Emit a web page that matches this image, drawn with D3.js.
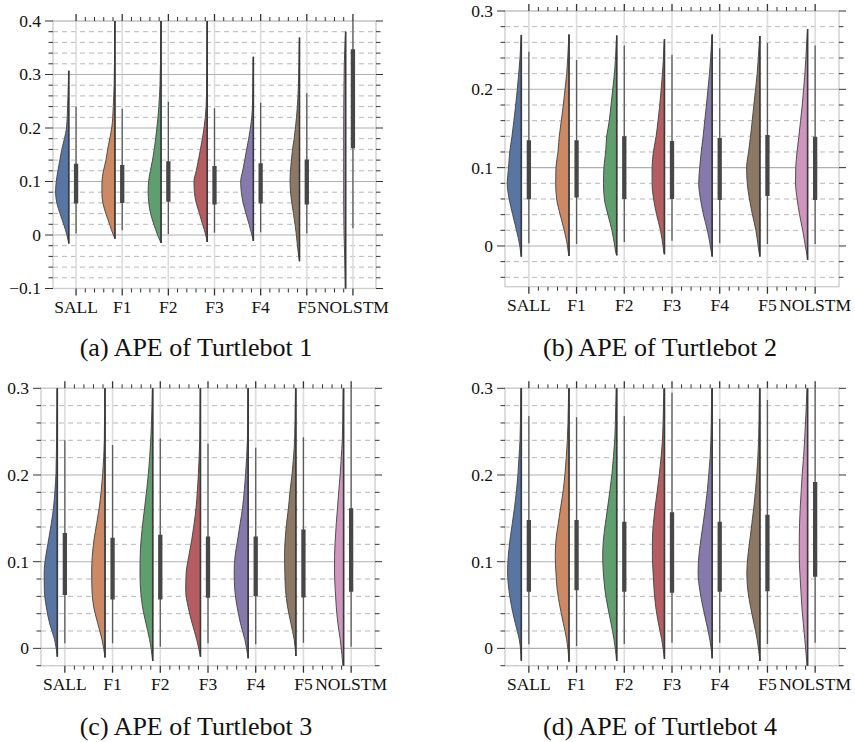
<!DOCTYPE html>
<html>
<head>
<meta charset="utf-8">
<script src="https://cdn.jsdelivr.net/npm/d3@7"></script>
<style>
  html, body { margin: 0; padding: 0; background: #ffffff; }
  svg { display: block; }
  text { font-family: "Liberation Serif", "DejaVu Serif", serif; fill: #111; }
</style>
</head>
<body>
<svg id="chart" width="855" height="742"></svg>
<script>
// ---------------- DATA ----------------
const categories = ["SALL", "F1", "F2", "F3", "F4", "F5", "NOLSTM"];
const palette = ["#5875a4", "#cc8963", "#5f9e6e", "#b55d60", "#857aab", "#8d7866", "#d095bf"];
const captions = ["(a) APE of Turtlebot 1", "(b) APE of Turtlebot 2", "(c) APE of Turtlebot 3", "(d) APE of Turtlebot 4"];

// y-axis domains and ticks
const yDomains = [[-0.1, 0.4], [-0.052, 0.3], [-0.02, 0.3], [-0.02, 0.3]];
const yMajorTicks = [[-0.1, 0, 0.1, 0.2, 0.3, 0.4], [0, 0.1, 0.2, 0.3], [0, 0.1, 0.2, 0.3], [0, 0.1, 0.2, 0.3]];
const yMajorLabels = [["\u22120.1", "0", "0.1", "0.2", "0.3", "0.4"], ["0", "0.1", "0.2", "0.3"], ["0", "0.1", "0.2", "0.3"], ["0", "0.1", "0.2", "0.3"]];
const yMinorStep = 0.02;

// ---- Turtlebot 1 ----
const t1Levels = [-0.04, -0.02, 0, 0.02, 0.04, 0.06, 0.08, 0.10, 0.12, 0.14, 0.16, 0.18, 0.20, 0.24, 0.28, 0.32, 0.36];
const t1Density = [
  [0, 0, 1.9, 5.3, 9, 12.3, 13.6, 12.9, 11.2, 9.2, 7.2, 4.5, 2.3, 1.2, 0.5, 0, 0],
  [0, 0, 1.6, 5.5, 9.3, 12.4, 13.4, 13.3, 11.8, 9.2, 7.5, 5.3, 3.3, 1.7, 0.8, 0.5, 0.3],
  [0, 0, 3.6, 7.4, 10.8, 12.6, 13.3, 12.8, 11, 8.8, 7, 5.6, 4.3, 2.3, 1.1, 0.6, 0.4],
  [0, 0, 1.5, 4.8, 8, 11.3, 13.2, 13.6, 11.3, 9, 7, 5, 3.3, 1.1, 0.6, 0.4, 0.3],
  [0, 0, 1.5, 4.4, 7.6, 10.5, 12.4, 13, 11, 8.8, 6.9, 4.8, 3, 0.9, 0.5, 0.2, 0],
  [0.8, 2.1, 3.2, 4.6, 6.2, 7.9, 9.2, 9.7, 9.3, 8.3, 7.2, 5.5, 4.2, 2.2, 1.1, 0.6, 0.2],
  [1, 1.3, 1.6, 1.8, 1.9, 2, 2, 2, 2, 2, 2, 2, 2, 1.9, 1.7, 1.4, 0.6]
];
const t1Min = [-0.016, -0.007, -0.015, -0.013, -0.011, -0.049, -0.13];
const t1Max = [0.307, 0.45, 0.45, 0.45, 0.333, 0.369, 0.38];
const t1WhiskLo = [0.003, 0.009, 0.002, 0.004, 0.005, 0.003, 0.0125];
const t1WhiskHi = [0.24, 0.236, 0.249, 0.237, 0.247, 0.265, 0.45];
const t1Q1 = [0.059, 0.06, 0.062, 0.057, 0.059, 0.057, 0.162];
const t1Q3 = [0.133, 0.131, 0.138, 0.129, 0.134, 0.141, 0.347];

// ---- Turtlebot 2 ----
const t2Levels = [-0.01, 0, 0.02, 0.04, 0.06, 0.08, 0.10, 0.12, 0.14, 0.16, 0.18, 0.20, 0.22, 0.24, 0.26];
const t2Density = [
  [0.5, 1.5, 4.8, 8.6, 12.1, 14, 12.7, 11.5, 9.3, 7.4, 5.6, 4, 2.6, 1.3, 0.5],
  [0.5, 1.5, 4.8, 8.8, 12.3, 13.3, 13, 11, 9.7, 7.7, 5.7, 4, 2.3, 1.3, 0.5],
  [0.6, 2, 4.8, 8.8, 12.3, 13.2, 12.8, 11, 10, 7.4, 5.7, 4, 2.3, 1.2, 0.5],
  [0.3, 1.4, 4, 7.8, 10.8, 12.3, 12.3, 11, 8.3, 6.4, 4.7, 3.3, 2, 1, 0.3],
  [0.6, 1.8, 4.8, 8.7, 11.7, 13.4, 12.4, 10.9, 9, 7.4, 5.7, 4.2, 2.7, 1.5, 0.6],
  [0.6, 1.7, 4, 7.4, 10.4, 12.6, 13.2, 11.3, 9.3, 7.6, 6, 4.3, 2.7, 1.6, 0.6],
  [0.8, 2.2, 4.9, 8, 10.4, 12, 11.8, 10.5, 8.7, 7, 5.3, 4, 2.7, 1.7, 0.9]
];
const t2Min = [-0.0137, -0.0128, -0.012, -0.0106, -0.0136, -0.0136, -0.018];
const t2Max = [0.2695, 0.27, 0.2686, 0.264, 0.27, 0.268, 0.277];
const t2WhiskLo = [0.0034, 0.0026, 0.005, 0.0068, 0.0034, 0.0026, 0.0026];
const t2WhiskHi = [0.248, 0.2375, 0.256, 0.244, 0.2524, 0.2596, 0.256];
const t2Q1 = [0.0596, 0.062, 0.06, 0.06, 0.0587, 0.0639, 0.0587];
const t2Q3 = [0.135, 0.135, 0.14, 0.134, 0.138, 0.1418, 0.1396];

// ---- Turtlebot 3 ----
const t3Levels = [0.01, 0.029, 0.048, 0.067, 0.087, 0.106, 0.125, 0.144, 0.163, 0.183, 0.202, 0.221, 0.24, 0.279];
const t3Density = [
  [2.7, 7.7, 11, 12.9, 13.1, 11.5, 8.7, 6, 3.7, 2.3, 1.3, 1, 0.7, 0.4],
  [3, 7.3, 11.3, 13, 13.3, 12.7, 11, 8.3, 5.7, 3.7, 2.3, 1.3, 0.7, 0.4],
  [3.1, 6.8, 10.2, 12.1, 12.7, 12.5, 11.6, 10, 8, 6, 4.3, 3, 2, 0.8],
  [3.7, 8.3, 12.3, 14.7, 14.2, 11.7, 8.7, 6.3, 4.3, 3, 2, 1.3, 0.7, 0.4],
  [3.3, 7.7, 11, 13.3, 13.9, 13.1, 10.5, 8, 5.5, 3.8, 2.5, 1.5, 0.8, 0.4],
  [1.7, 5, 8.3, 10.3, 11, 11.3, 10.7, 9.3, 7.3, 5.7, 3.7, 2.3, 1.3, 0.7],
  [3.3, 5.7, 7.3, 8.3, 9, 9, 8.3, 7.3, 6, 4.7, 3.3, 2.3, 1.3, 0.7]
];
const t3Min = [-0.0096, -0.0104, -0.0146, -0.0096, -0.0115, -0.0088, -0.03];
const t3Max = [0.33, 0.33, 0.33, 0.33, 0.33, 0.33, 0.33];
const t3WhiskLo = [0.0058, 0.0058, 0.002, 0.0058, 0.0046, 0.0065, 0.002];
const t3WhiskHi = [0.24, 0.2346, 0.242, 0.236, 0.2315, 0.2435, 0.33];
const t3Q1 = [0.0615, 0.0565, 0.0565, 0.0585, 0.06, 0.0588, 0.0654];
const t3Q3 = [0.133, 0.1277, 0.131, 0.129, 0.129, 0.137, 0.1615];

// ---- Turtlebot 4 ----
const t4Levels = [0.01, 0.029, 0.048, 0.067, 0.087, 0.106, 0.125, 0.144, 0.163, 0.183, 0.202, 0.221, 0.24, 0.279];
const t4Density = [
  [2, 6, 9.7, 12.3, 13.7, 13, 11.3, 9, 6.7, 4.7, 3.3, 2.3, 1.3, 0.7],
  [2.3, 5.7, 9, 11.7, 13, 13.7, 13, 10.7, 8.3, 5.7, 4, 2.7, 1.7, 0.7],
  [2.7, 5.7, 9, 11.7, 13.3, 14, 13.3, 11.3, 9, 6.7, 4.7, 3.3, 2, 1],
  [2.7, 6, 8.7, 10.3, 11.3, 12, 12, 11, 9.3, 7, 5, 3.3, 2, 1],
  [2.3, 5.7, 9.3, 12.3, 14, 13.3, 11.3, 9, 6.7, 4.7, 3.3, 2, 1.3, 0.7],
  [2.7, 6, 9.3, 12, 13, 12, 10, 8, 6, 4.3, 3, 2, 1.3, 0.7],
  [2.7, 4.3, 5.7, 6.7, 7.7, 8.3, 8.3, 8, 7.3, 6.3, 5.3, 4, 3, 1.3]
];
const t4Min = [-0.0142, -0.0154, -0.0146, -0.0123, -0.0115, -0.0146, -0.03];
const t4Max = [0.33, 0.33, 0.33, 0.33, 0.33, 0.33, 0.33];
const t4WhiskLo = [0.0046, 0.0027, 0.005, 0.0065, 0.0065, 0.005, 0.0065];
const t4WhiskHi = [0.268, 0.2665, 0.268, 0.295, 0.2646, 0.2865, 0.33];
const t4Q1 = [0.0654, 0.067, 0.0654, 0.0642, 0.0654, 0.066, 0.0827];
const t4Q3 = [0.148, 0.148, 0.146, 0.157, 0.146, 0.154, 0.192];

// ---------------- LAYOUT ----------------
const layouts = [
  { x0: 53, x1: 376, yTop: 21, yBot: 288.5, capX: 196, capY: 356 },
  { x0: 505, x1: 839, yTop: 11, yBot: 286.7, capX: 660, capY: 356 },
  { x0: 41, x1: 375, yTop: 388.3, yBot: 665.7, capX: 196, capY: 735 },
  { x0: 505, x1: 839, yTop: 388.3, yBot: 665.7, capX: 660, capY: 735 }
];
const panelData = [
  { levels: t1Levels, dens: t1Density, min: t1Min, max: t1Max, wlo: t1WhiskLo, whi: t1WhiskHi, q1: t1Q1, q3: t1Q3 },
  { levels: t2Levels, dens: t2Density, min: t2Min, max: t2Max, wlo: t2WhiskLo, whi: t2WhiskHi, q1: t2Q1, q3: t2Q3 },
  { levels: t3Levels, dens: t3Density, min: t3Min, max: t3Max, wlo: t3WhiskLo, whi: t3WhiskHi, q1: t3Q1, q3: t3Q3 },
  { levels: t4Levels, dens: t4Density, min: t4Min, max: t4Max, wlo: t4WhiskLo, whi: t4WhiskHi, q1: t4Q1, q3: t4Q3 }
];

const svg = d3.select("#chart");

layouts.forEach((L, p) => {
  const D = panelData[p];
  const g = svg.append("g");
  const x = d3.scaleBand().domain(categories).range([L.x0, L.x1]).paddingInner(0).paddingOuter(0);
  const bw = x.bandwidth();
  const cx = c => x(c) + bw / 2;
  const y = d3.scaleLinear().domain(yDomains[p]).range([L.yBot, L.yTop]);
  const wScale = d3.scaleLinear().domain([0, 14]).range([0, bw * 0.295]);
  const edgeOff = bw * 0.158;

  const clipId = "clip" + p;
  svg.append("clipPath").attr("id", clipId).append("rect")
    .attr("x", L.x0).attr("y", L.yTop).attr("width", L.x1 - L.x0).attr("height", L.yBot - L.yTop);

  const [d0, d1] = yDomains[p];
  const minorVals = d3.range(Math.ceil(d0 / yMinorStep - 1e-6), Math.floor(d1 / yMinorStep + 1e-6) + 1)
    .map(k => +(k * yMinorStep).toFixed(4))
    .filter(v => !yMajorTicks[p].some(m => Math.abs(m - v) < 1e-6));

  g.append("g").selectAll("line").data(minorVals).join("line")
    .attr("x1", L.x0).attr("x2", L.x1)
    .attr("y1", d => y(d)).attr("y2", d => y(d))
    .attr("stroke", "#b0b0b0").attr("stroke-width", 0.9).attr("stroke-dasharray", "5,4");
  g.append("g").selectAll("line").data(categories).join("line")
    .attr("x1", d => cx(d)).attr("x2", d => cx(d))
    .attr("y1", L.yTop).attr("y2", L.yBot)
    .attr("stroke", "#dcdcdc").attr("stroke-width", 1.6);
  g.append("g").selectAll("line").data(yMajorTicks[p]).join("line")
    .attr("x1", L.x0).attr("x2", L.x1)
    .attr("y1", d => y(d)).attr("y2", d => y(d))
    .attr("stroke", "#b0b0b0").attr("stroke-width", 1.1);

  g.append("rect").attr("x", L.x0).attr("y", L.yTop)
    .attr("width", L.x1 - L.x0).attr("height", L.yBot - L.yTop)
    .attr("fill", "none").attr("stroke", "#cfcfcf").attr("stroke-width", 1.4);

  const marks = g.append("g").attr("clip-path", `url(#${clipId})`);

  categories.forEach((c, i) => {
    const edge = cx(c) - edgeOff;
    const pts = [[D.min[i], 0]];
    D.levels.forEach((lv, k) => {
      if (lv > D.min[i] && lv < D.max[i]) pts.push([lv, D.dens[i][k]]);
    });
    pts.push([D.max[i], 0]);
    const area = d3.area()
      .curve(d3.curveMonotoneY)
      .y(d => y(d[0]))
      .x0(edge)
      .x1(d => edge - wScale(d[1]));
    marks.append("path").attr("d", area(pts))
      .attr("fill", palette[i]).attr("stroke", "#3f3f3f").attr("stroke-width", 0.9)
      .attr("stroke-linejoin", "round");
    marks.append("line")
      .attr("x1", edge).attr("x2", edge)
      .attr("y1", y(D.min[i])).attr("y2", y(D.max[i]))
      .attr("stroke", "#3a3a3a").attr("stroke-width", 1.6);
    marks.append("line")
      .attr("x1", cx(c)).attr("x2", cx(c))
      .attr("y1", y(D.wlo[i])).attr("y2", y(D.whi[i]))
      .attr("stroke", "#5a5a5a").attr("stroke-width", 1.3);
    marks.append("line")
      .attr("x1", cx(c)).attr("x2", cx(c))
      .attr("y1", y(D.q1[i])).attr("y2", y(D.q3[i]))
      .attr("stroke", "#474747").attr("stroke-width", 4.3);
  });

  const tk = g.append("g").attr("stroke", "#333").attr("stroke-width", 1);
  yMajorTicks[p].forEach(v => {
    tk.append("line").attr("x1", L.x0 - 8).attr("x2", L.x0).attr("y1", y(v)).attr("y2", y(v));
    tk.append("line").attr("x1", L.x1).attr("x2", L.x1 + 7).attr("y1", y(v)).attr("y2", y(v));
  });
  minorVals.forEach(v => {
    tk.append("line").attr("x1", L.x0 - 4.5).attr("x2", L.x0).attr("y1", y(v)).attr("y2", y(v));
    tk.append("line").attr("x1", L.x1).attr("x2", L.x1 + 4.5).attr("y1", y(v)).attr("y2", y(v));
  });
  categories.forEach((c, i) => {
    const xc = cx(c);
    tk.append("line").attr("x1", xc).attr("x2", xc).attr("y1", L.yTop - 7).attr("y2", L.yTop).attr("stroke-width", 1.3);
    tk.append("line").attr("x1", xc).attr("x2", xc).attr("y1", L.yBot).attr("y2", L.yBot + 7).attr("stroke-width", 1.3);
    if (i < categories.length - 1) {
      for (let k = 1; k <= 4; k++) {
        const xm = xc + k * bw / 5;
        tk.append("line").attr("x1", xm).attr("x2", xm).attr("y1", L.yTop - 4).attr("y2", L.yTop);
        tk.append("line").attr("x1", xm).attr("x2", xm).attr("y1", L.yBot).attr("y2", L.yBot + 4);
      }
    }
  });

  g.append("g").selectAll("text").data(yMajorTicks[p]).join("text")
    .attr("x", L.x0 - 12).attr("y", d => y(d)).attr("dy", "0.34em")
    .attr("text-anchor", "end").attr("font-size", 17.5)
    .text((d, k) => yMajorLabels[p][k]);
  g.append("g").selectAll("text").data(categories).join("text")
    .attr("x", d => cx(d)).attr("y", L.yBot + 24)
    .attr("text-anchor", "middle").attr("font-size", 17.5)
    .text(d => d);
  g.append("text").attr("x", L.capX).attr("y", L.capY)
    .attr("text-anchor", "middle").attr("font-size", 26)
    .text(captions[p]);
});
</script>
</body>
</html>
